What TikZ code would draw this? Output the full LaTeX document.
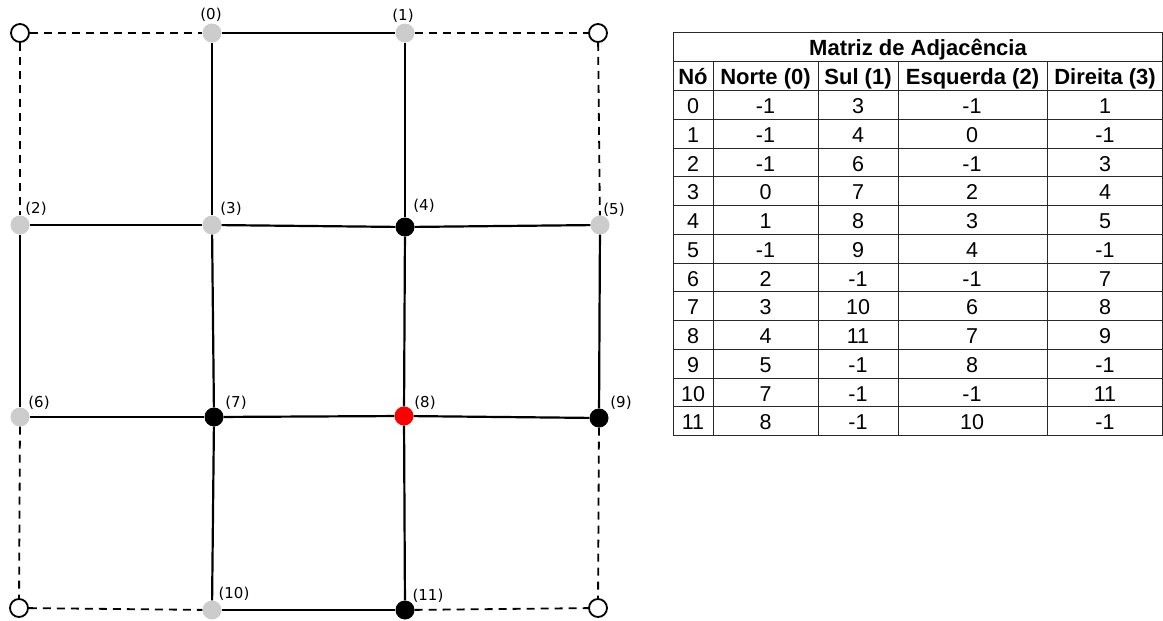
\documentclass[tikz,border=0pt]{standalone}
\usepackage{fontspec}
\setmainfont{Liberation Sans}
\newfontfamily\lblfont{DejaVu Sans}
\definecolor{nodegray}{RGB}{204,204,204}
\definecolor{tabline}{RGB}{40,40,40}
\begin{document}
\begin{tikzpicture}[x=1pt,y=-1pt,
  edge/.style={line width=2.2pt},
  dedge/.style={line width=1.8pt, dash pattern=on 8pt off 6pt},
  vtx/.style={circle, inner sep=0pt, minimum size=19pt},
  gv/.style={vtx, fill=nodegray},
  bv/.style={vtx, fill=black},
  rv/.style={vtx, fill=red},
  ov/.style={vtx, minimum size=18pt, draw=black, line width=1.8pt, fill=white},
  lbl/.style={font=\lblfont\fontsize{15}{17}\selectfont, inner sep=0pt},
  cell/.style={font=\fontsize{21.5}{25}\selectfont, anchor=base, inner sep=0pt},
  hcell/.style={font=\bfseries\fontsize{22}{26}\selectfont, anchor=base, inner sep=0pt},
  tl/.style={draw=tabline, line width=1pt}
]
\useasboundingbox (0,0) rectangle (1163,621);

% corners
\node[ov] (cTL) at (20,33) {};
\node[ov] (cTR) at (598,33) {};
\node[ov] (cBL) at (19,608) {};
\node[ov] (cBR) at (598,608) {};
% vertices
\node[gv] (n0) at (212,33) {};
\node[gv] (n1) at (405,33) {};
\node[gv] (n2) at (20,225) {};
\node[gv] (n3) at (212,225) {};
\node[bv] (n4) at (405,227) {};
\node[gv] (n5) at (600,225) {};
\node[gv] (n6) at (20,417) {};
\node[bv] (n7) at (214,417) {};
\node[rv] (n8) at (404,416) {};
\node[bv] (n9) at (599,418) {};
\node[gv] (n10) at (212,610) {};
\node[bv] (n11) at (405,610) {};

% solid edges
\foreach \a/\b in {n0/n1,n0/n3,n1/n4,n2/n3,n3/n4,n4/n5,n2/n6,n3/n7,n4/n8,n5/n9,n6/n7,n7/n8,n8/n9,n7/n10,n8/n11,n10/n11}
  \draw[edge] (\a) -- (\b);
% dashed edges
\foreach \a/\b in {cTL/n0,n1/cTR,cTL/n2,cTR/n5,n6/cBL,n9/cBR,cBL/n10,n11/cBR}
  \draw[dedge] (\a) -- (\b);

% labels
\node[lbl] (l0) at (211,15) {(0)};
\node[lbl] (l1) at (403,16) {(1)};
\node[lbl] (l2) at (36,209) {(2)};
\node[lbl] (l3) at (231,209) {(3)};
\node[lbl] (l4) at (424,206) {(4)};
\node[lbl] (l5) at (614,210) {(5)};
\node[lbl] (l6) at (39,403) {(6)};
\node[lbl] (l7) at (236,403) {(7)};
\node[lbl] (l8) at (425,403) {(8)};
\node[lbl] (l9) at (621,403) {(9)};
\node[lbl] (l10) at (234,594) {(10)};
\node[lbl] (l11) at (428,596) {(11)};

% table lines
\draw[tl] (673,32) rectangle (1162.5,435.5);
\draw[tl] (673,61.5) -- (1162.5,61.5);
\foreach \k in {0,...,11} \draw[tl] (673,90.5+28.75*\k) -- (1162.5,90.5+28.75*\k);
\foreach \xx in {713,818,898,1047} \draw[tl] (\xx,61.5) -- (\xx,435.5);

% title and header
\node[hcell] (title) at (918,55) {Matriz de Adjacência};
\node[hcell] (h0) at (693,84) {Nó};
\node[hcell] (h1) at (765.5,84) {Norte (0)};
\node[hcell] (h2) at (858,84) {Sul (1)};
\node[hcell] (h3) at (972.5,84) {Esquerda (2)};
\node[hcell] (h4) at (1105,84) {Direita (3)};

% data
\foreach \na/\so/\es/\di [count=\i from 0] in {-1/3/-1/1,-1/4/0/-1,-1/6/-1/3,0/7/2/4,1/8/3/5,-1/9/4/-1,2/-1/-1/7,3/10/6/8,4/11/7/9,5/-1/8/-1,7/-1/-1/11,8/-1/10/-1}{
  \pgfmathsetmacro{\yb}{90.5+28.75*\i+14.4+8.6}
  \node[cell] (r\i-0) at (693,\yb) {\i};
  \node[cell] (r\i-1) at (765.5,\yb) {\na};
  \node[cell] (r\i-2) at (858,\yb) {\so};
  \node[cell] (r\i-3) at (972,\yb) {\es};
  \node[cell] (r\i-4) at (1105,\yb) {\di};
}
\end{tikzpicture}
\end{document}
